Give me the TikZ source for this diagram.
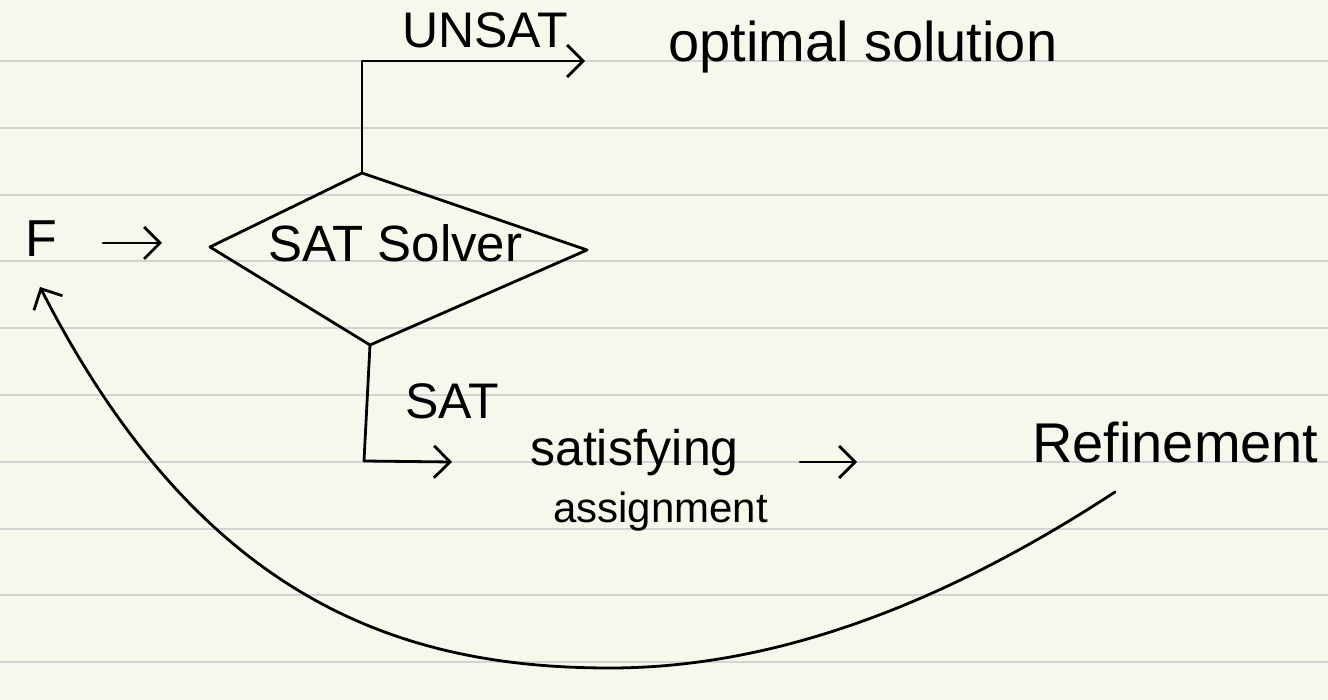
\documentclass[tikz,border=0pt]{standalone}
\usepackage{fontspec}
\setmainfont{Liberation Sans}
\usetikzlibrary{arrows.meta}
\definecolor{paper}{HTML}{F8F7EB}
\definecolor{rule}{HTML}{D3D3D3}
\tikzset{
  ink/.style={draw=black, line width=2.8pt, line join=round, line cap=round},
  arr/.style={ink, -{Straight Barb[length=16pt,width=32pt,line width=2.8pt]}},
  txt/.style={inner sep=0pt, anchor=base west, text=black},
}
\begin{document}
\begin{tikzpicture}[x=1pt,y=-1pt]
\fill[paper] (0,0) rectangle (1328,700);
\useasboundingbox (0,0) rectangle (1328,700);
\foreach \k in {0,...,9} \draw[rule, line width=2pt] (0,61+66.8*\k) -- (1328,61+66.8*\k);

% text nodes
\node[txt, font=\fontsize{52}{56}\selectfont] (F) at (25,257) {F};
\node[txt, font=\fontsize{51}{55}\selectfont] (solver) at (268,262) {SAT Solver};
\node[txt, font=\fontsize{50}{54}\selectfont] (unsat) at (402,48) {UNSAT};
\node[txt, font=\fontsize{56}{60}\selectfont] (opt) at (668,62) {optimal solution};
\node[txt, font=\fontsize{50}{54}\selectfont] (sat) at (405,418) {SAT};
\node[txt, font=\fontsize{50}{54}\selectfont] (satis) at (530,465) {satisfying};
\node[txt, font=\fontsize{42}{46}\selectfont] (assign) at (553,522) {assignment};
\node[txt, font=\fontsize{56}{60}\selectfont] (ref) at (1032,462) {Refinement};

% diamond
\coordinate (dl) at (210,247);
\coordinate (dt) at (362,173);
\coordinate (dr) at (587,250);
\coordinate (db) at (370,345);
\draw[ink] (dl) -- (dt) -- (dr) -- (db) -- cycle;

% F -> diamond
\coordinate (fa) at (103,243);
\coordinate (fb) at (162,243);
\draw[arr] (fa) -- (fb);

% UNSAT branch
\coordinate (ua) at (585,61);
\draw[arr] (dt) |- (ua);

% SAT branch
\coordinate (sc) at (364,461);
\coordinate (sa) at (452,462);
\draw[ink] (db) -- (sc);
\draw[arr] (sc) -- (sa);

% satisfying -> Refinement
\coordinate (ra) at (800,462);
\coordinate (rb) at (857,462);
\draw[arr] (ra) -- (rb);

% feedback curve
\coordinate (cs) at (1115,492);
\coordinate (cm) at (610,668);
\coordinate (ft) at (40,287);
\draw[arr] (cs) .. controls (950,600) and (780,668) .. (cm)
           .. controls (400,668) and (200,600) .. (ft);
\end{tikzpicture}
\end{document}
